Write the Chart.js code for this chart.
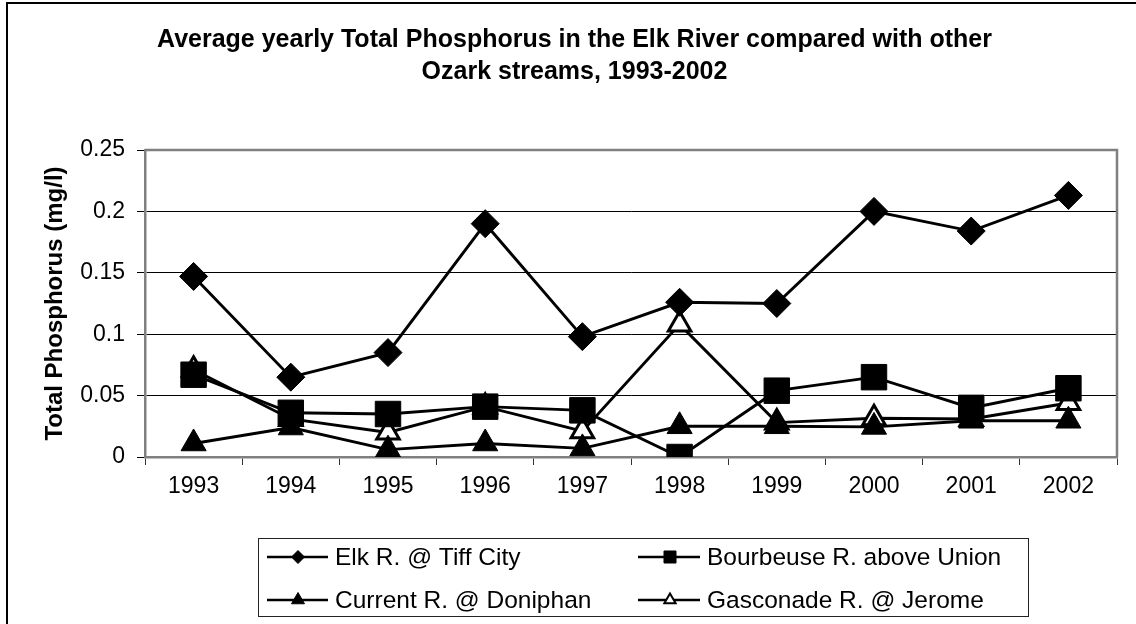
<!DOCTYPE html>
<html>
<head>
<meta charset="utf-8">
<script src="https://cdn.jsdelivr.net/npm/chart.js@4/dist/chart.umd.min.js"></script>
<style>
html,body{margin:0;padding:0;background:#fff;}
#wrap{width:1136px;height:624px;position:relative;}
canvas{display:block;}
</style>
</head>
<body>
<div id="wrap"><canvas id="c" width="1136" height="624"></canvas></div>
<script>
// ---- data ----
const years = ['1993','1994','1995','1996','1997','1998','1999','2000','2001','2002'];
const elkTiffCity      = [0.147, 0.065, 0.085, 0.190, 0.098, 0.126, 0.125, 0.200, 0.184, 0.213];
const bourbeuseUnion   = [0.067, 0.036, 0.035, 0.041, 0.038, 0.000, 0.054, 0.065, 0.040, 0.056];
const currentDoniphan  = [0.011, 0.024, 0.006, 0.011, 0.007, 0.025, 0.025, 0.0245, 0.0295, 0.0295];
const gasconadeJerome  = [0.071, 0.031, 0.020, 0.041, 0.021, 0.108, 0.028, 0.0315, 0.031, 0.044];
const seriesNames = ['Elk R. @ Tiff City', 'Bourbeuse R. above Union', 'Current R. @ Doniphan', 'Gasconade R. @ Jerome'];
const yTickLabels = ['0', '0.05', '0.1', '0.15', '0.2', '0.25'];
const titleLines = ['Average yearly Total Phosphorus in the Elk River compared with other', 'Ozark streams, 1993-2002'];
const yAxisTitle = 'Total Phosphorus (mg/l)';

const FONT = '"Liberation Sans", Arial, Helvetica, sans-serif';

const frameAndBorder = {
  id: 'frameAndBorder',
  beforeDatasetsDraw(chart) {
    const {ctx, chartArea: a} = chart;
    ctx.save();
    ctx.strokeStyle = '#808080';
    ctx.lineWidth = 2.5;
    ctx.beginPath();
    ctx.moveTo(a.left, a.top);
    ctx.lineTo(a.right, a.top);
    ctx.lineTo(a.right, a.bottom);
    ctx.stroke();
    ctx.restore();
  },
  afterDraw(chart) {
    const ctx = chart.ctx;
    ctx.save();
    ctx.fillStyle = '#000';
    ctx.fillRect(6, 2, 1136, 2);
    ctx.fillRect(6, 2, 2, 624);
    ctx.restore();
  }
};

const legendMarkers = [
  {style: 'rectRot', r: 6.5, fill: '#000', bw: 1},
  {style: 'rect', r: 8.5, fill: '#000', bw: 1},
  {style: 'triangle', r: 7.5, fill: '#000', bw: 1},
  {style: 'triangle', r: 6.5, fill: '#fff', bw: 2}
];

const boxLegend = {
  id: 'boxLegend',
  afterDraw(chart) {
    const ctx = chart.ctx;
    const box = {x: 258.5, y: 538.5, w: 770, h: 78};
    const cols = [{lx: 267, mx: 298, ex: 328, tx: 335}, {lx: 638, mx: 670, ex: 700, tx: 707}];
    const rows = [557, 600];
    ctx.save();
    ctx.strokeStyle = '#222';
    ctx.lineWidth = 1;
    ctx.strokeRect(box.x, box.y, box.w, box.h);
    chart.data.datasets.forEach((ds, i) => {
      const c = cols[i % 2], y = rows[Math.floor(i / 2)];
      ctx.strokeStyle = '#000';
      ctx.lineWidth = 2.5;
      ctx.beginPath();
      ctx.moveTo(c.lx, y);
      ctx.lineTo(c.ex, y);
      ctx.stroke();
      const m = legendMarkers[i];
      ctx.fillStyle = m.fill;
      ctx.strokeStyle = '#000';
      ctx.lineWidth = m.bw;
      Chart.helpers.drawPoint(ctx, {pointStyle: m.style, radius: m.r, rotation: 0, borderWidth: m.bw}, c.mx, y);
      ctx.fillStyle = '#000';
      ctx.font = '24.5px ' + FONT;
      ctx.textBaseline = 'middle';
      ctx.textAlign = 'left';
      ctx.fillText(ds.label, c.tx, y + 1);
    });
    ctx.restore();
  }
};

const lineBase = {
  borderColor: '#000',
  borderWidth: 2.9,
  pointBorderColor: '#000',
  tension: 0,
  fill: false
};

new Chart(document.getElementById('c'), {
  type: 'line',
  data: {
    labels: years,
    datasets: [
      Object.assign({}, lineBase, {label: seriesNames[0], data: elkTiffCity, pointStyle: 'rectRot', pointRadius: 14, pointBackgroundColor: '#000', pointBorderWidth: 1}),
      Object.assign({}, lineBase, {label: seriesNames[1], data: bourbeuseUnion, pointStyle: 'rect', pointRadius: 18, pointBackgroundColor: '#000', pointBorderWidth: 1}),
      Object.assign({}, lineBase, {label: seriesNames[2], data: currentDoniphan, pointStyle: 'triangle', pointRadius: 14.5, pointBackgroundColor: '#000', pointBorderWidth: 1}),
      Object.assign({}, lineBase, {label: seriesNames[3], data: gasconadeJerome, pointStyle: 'triangle', pointRadius: 13, pointBackgroundColor: '#fff', pointBorderWidth: 3})
    ]
  },
  options: {
    responsive: false,
    animation: false,
    events: [],
    layout: {padding: {left: 32, right: 19, top: 0, bottom: 117}},
    plugins: {
      legend: {display: false},
      tooltip: {enabled: false},
      title: {
        display: true,
        text: titleLines,
        color: '#000',
        font: {family: FONT, size: 25, weight: 'bold', lineHeight: 32 / 25},
        padding: {top: 24, bottom: 62}
      }
    },
    scales: {
      x: {
        type: 'category',
        offset: true,
        afterFit(s) { s.height = 50; },
        grid: {offset: true, drawOnChartArea: false, tickLength: 8, color: '#333', lineWidth: 1},
        border: {display: true, color: '#808080', width: 2.5},
        ticks: {color: '#000', font: {family: FONT, size: 23}, padding: 8, maxRotation: 0, autoSkip: false}
      },
      y: {
        min: 0,
        max: 0.25,
        afterFit(s) { s.width = 113; },
        afterBuildTicks(s) { s.ticks = yTickLabels.map(t => ({value: parseFloat(t)})); },
        grid: {
          tickLength: 8,
          tickColor: '#000',
          lineWidth: 1,
          color: (c) => (c.tick && (c.tick.value === 0 || c.tick.value === 0.25)) ? 'rgba(0,0,0,0)' : '#000'
        },
        border: {display: true, color: '#808080', width: 2.5},
        ticks: {
          color: '#000',
          font: {family: FONT, size: 23},
          padding: 12,
          callback: (v, i) => yTickLabels[i]
        },
        title: {
          display: true,
          text: yAxisTitle,
          color: '#000',
          font: {family: FONT, size: 24, weight: 'bold'},
          padding: {top: 8.5, bottom: 0}
        }
      }
    }
  },
  plugins: [frameAndBorder, boxLegend]
});
</script>
</body>
</html>
